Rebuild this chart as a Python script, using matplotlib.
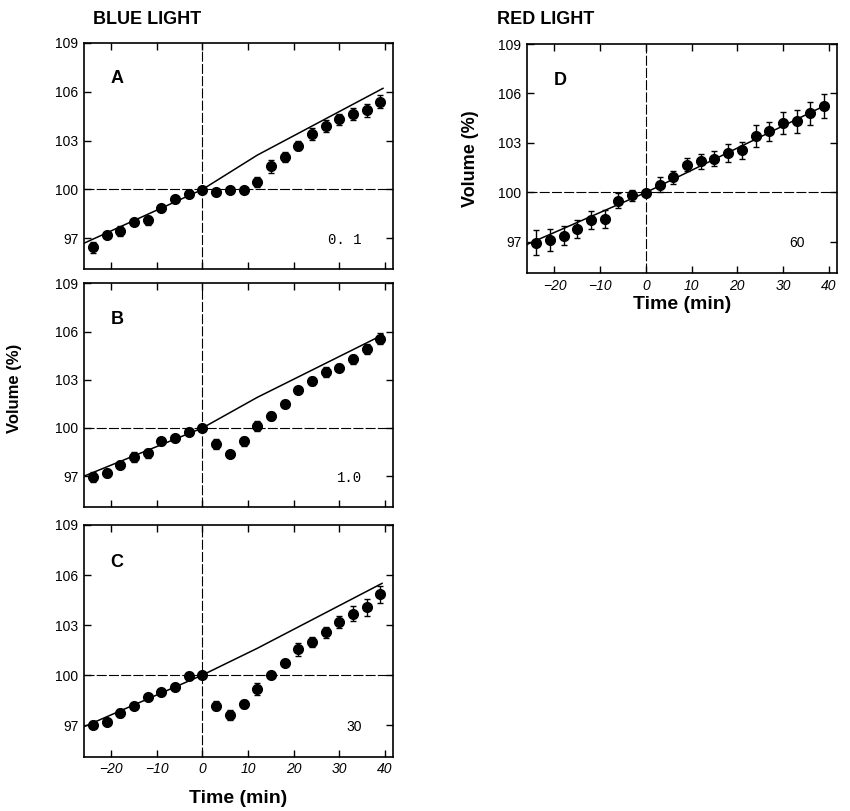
import matplotlib
matplotlib.use("Agg")
import matplotlib.pyplot as plt
import numpy as np

plt.rcParams['font.family'] = ['Liberation Sans', 'DejaVu Sans']

time = [-24, -21, -18, -15, -12, -9, -6, -3, 0, 3, 6, 9, 12, 15, 18, 21, 24, 27, 30, 33, 36, 39]

vol_a = [96.45, 97.2, 97.43, 97.99, 98.1, 98.87, 99.4, 99.71, 99.97, 99.84, 99.96, 99.98,
         100.45, 101.42, 101.99, 102.69, 103.39, 103.88, 104.29, 104.6, 104.87, 105.38]
err_a = [0.33, 0.2, 0.3, 0.2, 0.3, 0.15, 0.1, 0.1, 0.05, 0.1, 0.1, 0.15,
         0.3, 0.4, 0.3, 0.3, 0.35, 0.37, 0.35, 0.37, 0.4, 0.4]

vol_b = [96.96, 97.22, 97.72, 98.2, 98.42, 99.16, 99.36, 99.76, 100.02, 99.02, 98.36, 99.16,
         100.12, 100.76, 101.46, 102.36, 102.9, 103.5, 103.76, 104.26, 104.92, 105.56]
err_b = [0.3, 0.25, 0.2, 0.3, 0.3, 0.2, 0.2, 0.15, 0.05, 0.3, 0.15, 0.3,
         0.3, 0.25, 0.15, 0.2, 0.25, 0.3, 0.2, 0.3, 0.3, 0.35]

vol_c = [97.02, 97.18, 97.74, 98.17, 98.69, 98.99, 99.29, 99.94, 100.0, 98.17, 97.62, 98.27,
         99.17, 100.0, 100.7, 101.55, 101.99, 102.56, 103.2, 103.67, 104.07, 104.84]
err_c = [0.2, 0.15, 0.25, 0.15, 0.15, 0.15, 0.15, 0.1, 0.05, 0.25, 0.3, 0.25,
         0.35, 0.15, 0.15, 0.4, 0.3, 0.35, 0.35, 0.45, 0.5, 0.5]

vol_d = [96.96, 97.12, 97.39, 97.8, 98.33, 98.37, 99.51, 99.82, 99.98, 100.47, 100.92, 101.69,
         101.9, 102.04, 102.41, 102.55, 103.43, 103.7, 104.2, 104.31, 104.8, 105.24]
err_d = [0.75, 0.65, 0.55, 0.55, 0.55, 0.55, 0.45, 0.35, 0.1, 0.45, 0.4, 0.4,
         0.45, 0.45, 0.55, 0.5, 0.65, 0.6, 0.65, 0.7, 0.7, 0.7]

line_x_a = [-26, 0, 12, 39.6]
line_y_a = [96.7, 100, 102.1, 106.2]
line_x_b = [-26, 0, 12, 39.6]
line_y_b = [97.0, 100, 101.9, 105.8]
line_x_c = [-26, 0, 12, 39.4]
line_y_c = [96.9, 100, 101.6, 105.5]
line_x_d = [-26, 0, 39.4]
line_y_d = [96.85, 100, 105.3]

xticks = [-20, -10, 0, 10, 20, 30, 40]
yticks = [97, 100, 103, 106, 109]

panels = [
    ("A", "0. 1", vol_a, err_a, line_x_a, line_y_a, [84, 42.7, 393, 269.3], False, 0.845),
    ("B", "1.0", vol_b, err_b, line_x_b, line_y_b, [84, 283.3, 393, 506.7], False, 0.86),
    ("C", "30", vol_c, err_c, line_x_c, line_y_c, [84, 525, 393, 756.7], True, 0.875),
    ("D", "60", vol_d, err_d, line_x_d, line_y_d, [527, 44, 837, 273.3], True, 0.87),
]

W, H = 850, 811
fig = plt.figure(figsize=(8.5, 8.11), dpi=100)

for letter, note, vol, err, lx, ly, box, showx, notex in panels:
    l, t, r, b = box
    ax = fig.add_axes([l / W, 1 - b / H, (r - l) / W, (b - t) / H])
    ax.set_xlim(-26, 41.8)
    ax.set_ylim(95.1, 109)
    ax.axhline(100, color='black', lw=0.8, ls=(0, (9, 2)), zorder=1)
    ax.axvline(0, color='black', lw=0.8, ls=(0, (9, 2)), zorder=1)
    ax.plot(lx, ly, color='black', lw=1.1, zorder=2)
    ax.errorbar(time, vol, yerr=err, fmt='o', color='black', ms=7,
                ecolor='black', elinewidth=1.0, capsize=2.5, capthick=1.0, zorder=3)
    ax.set_xticks(xticks)
    ax.set_yticks(yticks)
    ax.tick_params(direction='in', top=True, right=True, length=5, width=1,
                   labelsize=10, pad=4)
    ax.set_yticklabels([str(v) for v in yticks])
    if showx:
        ax.set_xticklabels([str(v).replace('-', '\u2212') for v in xticks],
                           fontstyle='italic')
        ax.set_xlabel("Time (min)", fontsize=14, fontweight='bold',
                      labelpad=10 if letter == "C" else 2)
    else:
        ax.set_xticklabels([])
    for s in ax.spines.values():
        s.set_linewidth(1.2)
    ax.text(0.085, 0.84, letter, transform=ax.transAxes, fontsize=13,
            fontweight='bold', ha='left', va='center')
    ax.text(notex, 0.13, note, transform=ax.transAxes, fontsize=10,
            ha='center', va='center',
            family=['Liberation Mono'] if '.' in note else ['Liberation Sans'])
    if letter == "D":
        ax.set_ylabel("Volume (%)", fontsize=13, fontweight='bold', labelpad=14)

fig.text(93 / W, 1 - 19 / H, "BLUE LIGHT", fontsize=13, fontweight='bold',
         ha='left', va='center')
fig.text(497 / W, 1 - 19 / H, "RED LIGHT", fontsize=13, fontweight='bold',
         ha='left', va='center')
fig.text(15 / W, 1 - 388 / H, "Volume (%)", fontsize=12, fontweight='bold',
         rotation=90, ha='center', va='center')

fig.savefig("out.png", dpi=100)
